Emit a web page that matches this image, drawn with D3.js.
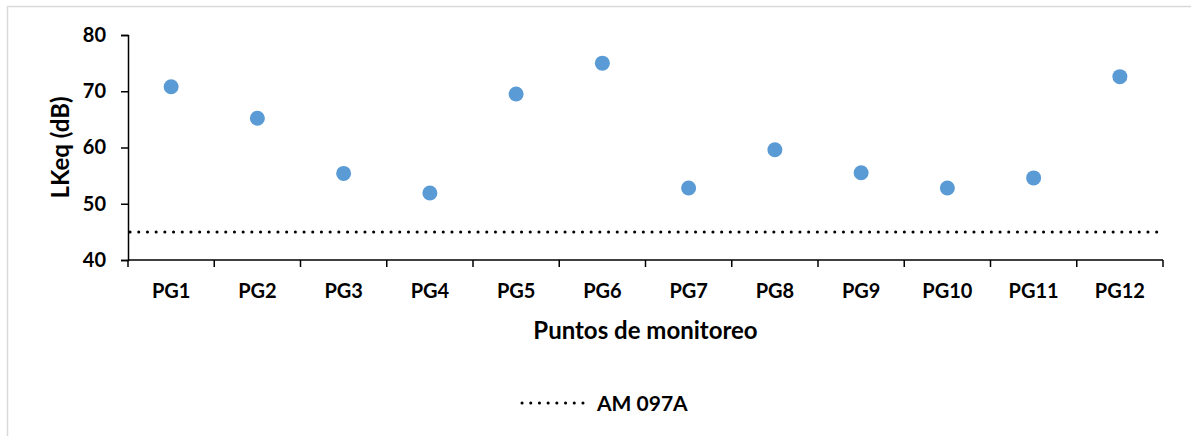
<!DOCTYPE html>
<html>
<head>
<meta charset="utf-8">
<script src="https://cdn.jsdelivr.net/npm/d3@7"></script>
<style>
  html, body { margin: 0; padding: 0; background: #fff; }
  svg text { font-family: Lato, "Open Sans", sans-serif; font-weight: bold; fill: #000; }
</style>
</head>
<body>
<div id="chart"></div>
<script>
// data
const points = ['PG1','PG2','PG3','PG4','PG5','PG6','PG7','PG8','PG9','PG10','PG11','PG12'];
const lkeq = [70.8, 65.2, 55.4, 51.9, 69.5, 75.0, 52.8, 59.6, 55.5, 52.8, 54.6, 72.6];
const limitLabel = 'AM 097A';
const limitValue = 45;
const yTicks = [40, 50, 60, 70, 80];

const W = 1191, H = 436;
const m = { left: 128, right: 28, top: 35, bottom: 176 };

const svg = d3.select('#chart').append('svg')
    .attr('width', W).attr('height', H);

// chart frame (only left/top edges are visible in the picture)
svg.append('rect')
    .attr('x', 7.5).attr('y', 6.5)
    .attr('width', W + 20).attr('height', H + 20)
    .attr('fill', 'none').attr('stroke', '#d9d9d9').attr('stroke-width', 1.5);

const x = d3.scaleBand().domain(points).range([m.left, W - m.right]);
const y = d3.scaleLinear().domain([40, 80]).range([H - m.bottom, m.top]);

const g = svg.append('g');

// y axis
const yAxis = g.append('g')
    .attr('transform', `translate(${m.left},0)`)
    .call(d3.axisLeft(y).tickValues(yTicks).tickSize(7).tickPadding(15));
yAxis.selectAll('text').style('font-size', '20px');

// x axis with ticks at band edges
const xAxis = g.append('g')
    .attr('transform', `translate(0,${H - m.bottom})`)
    .call(d3.axisBottom(x).tickSize(0).tickPadding(24));
xAxis.selectAll('text').style('font-size', '20px');
xAxis.select('.domain').remove();
xAxis.append('line')
    .attr('x1', m.left).attr('x2', W - m.right)
    .attr('stroke', '#000').attr('stroke-width', 1.5);
xAxis.selectAll('.edge')
  .data(points.concat(['end']))
  .enter().append('line')
    .attr('class', 'edge')
    .attr('x1', (d, i) => i < points.length ? x(d) : x.range()[1])
    .attr('x2', (d, i) => i < points.length ? x(d) : x.range()[1])
    .attr('y1', 0).attr('y2', 7)
    .attr('stroke', '#000').attr('stroke-width', 1.5);

g.selectAll('.domain, .tick line').attr('stroke', '#000').attr('stroke-width', 1.5);

// limit line
g.append('line')
    .attr('x1', m.left + 2).attr('x2', W - m.right)
    .attr('y1', y(limitValue)).attr('y2', y(limitValue))
    .attr('stroke', '#000').attr('stroke-width', 3)
    .attr('stroke-linecap', 'round')
    .attr('stroke-dasharray', '0.1 8.6');

// points
g.selectAll('circle.pt')
  .data(lkeq)
  .enter().append('circle')
    .attr('class', 'pt')
    .attr('cx', (d, i) => x(points[i]) + x.bandwidth() / 2)
    .attr('cy', d => y(d))
    .attr('r', 7.5)
    .attr('fill', '#5b9bd5');

// axis titles
svg.append('text')
    .attr('x', (m.left + W - m.right) / 2).attr('y', 339)
    .attr('text-anchor', 'middle')
    .style('font-size', '24px')
    .text('Puntos de monitoreo');

svg.append('text')
    .attr('transform', `translate(69,${(y(40) + y(80)) / 2}) rotate(-90)`)
    .attr('text-anchor', 'middle')
    .style('font-size', '24px')
    .text('LKeq (dB)');

// legend
const lg = svg.append('g').attr('transform', 'translate(520,403)');
lg.append('line')
    .attr('x1', 2).attr('x2', 66)
    .attr('stroke', '#000').attr('stroke-width', 3)
    .attr('stroke-linecap', 'round')
    .attr('stroke-dasharray', '0.1 8.6');
lg.append('text')
    .attr('x', 77).attr('y', 7.5)
    .style('font-size', '21px')
    .text(limitLabel);
</script>
</body>
</html>
